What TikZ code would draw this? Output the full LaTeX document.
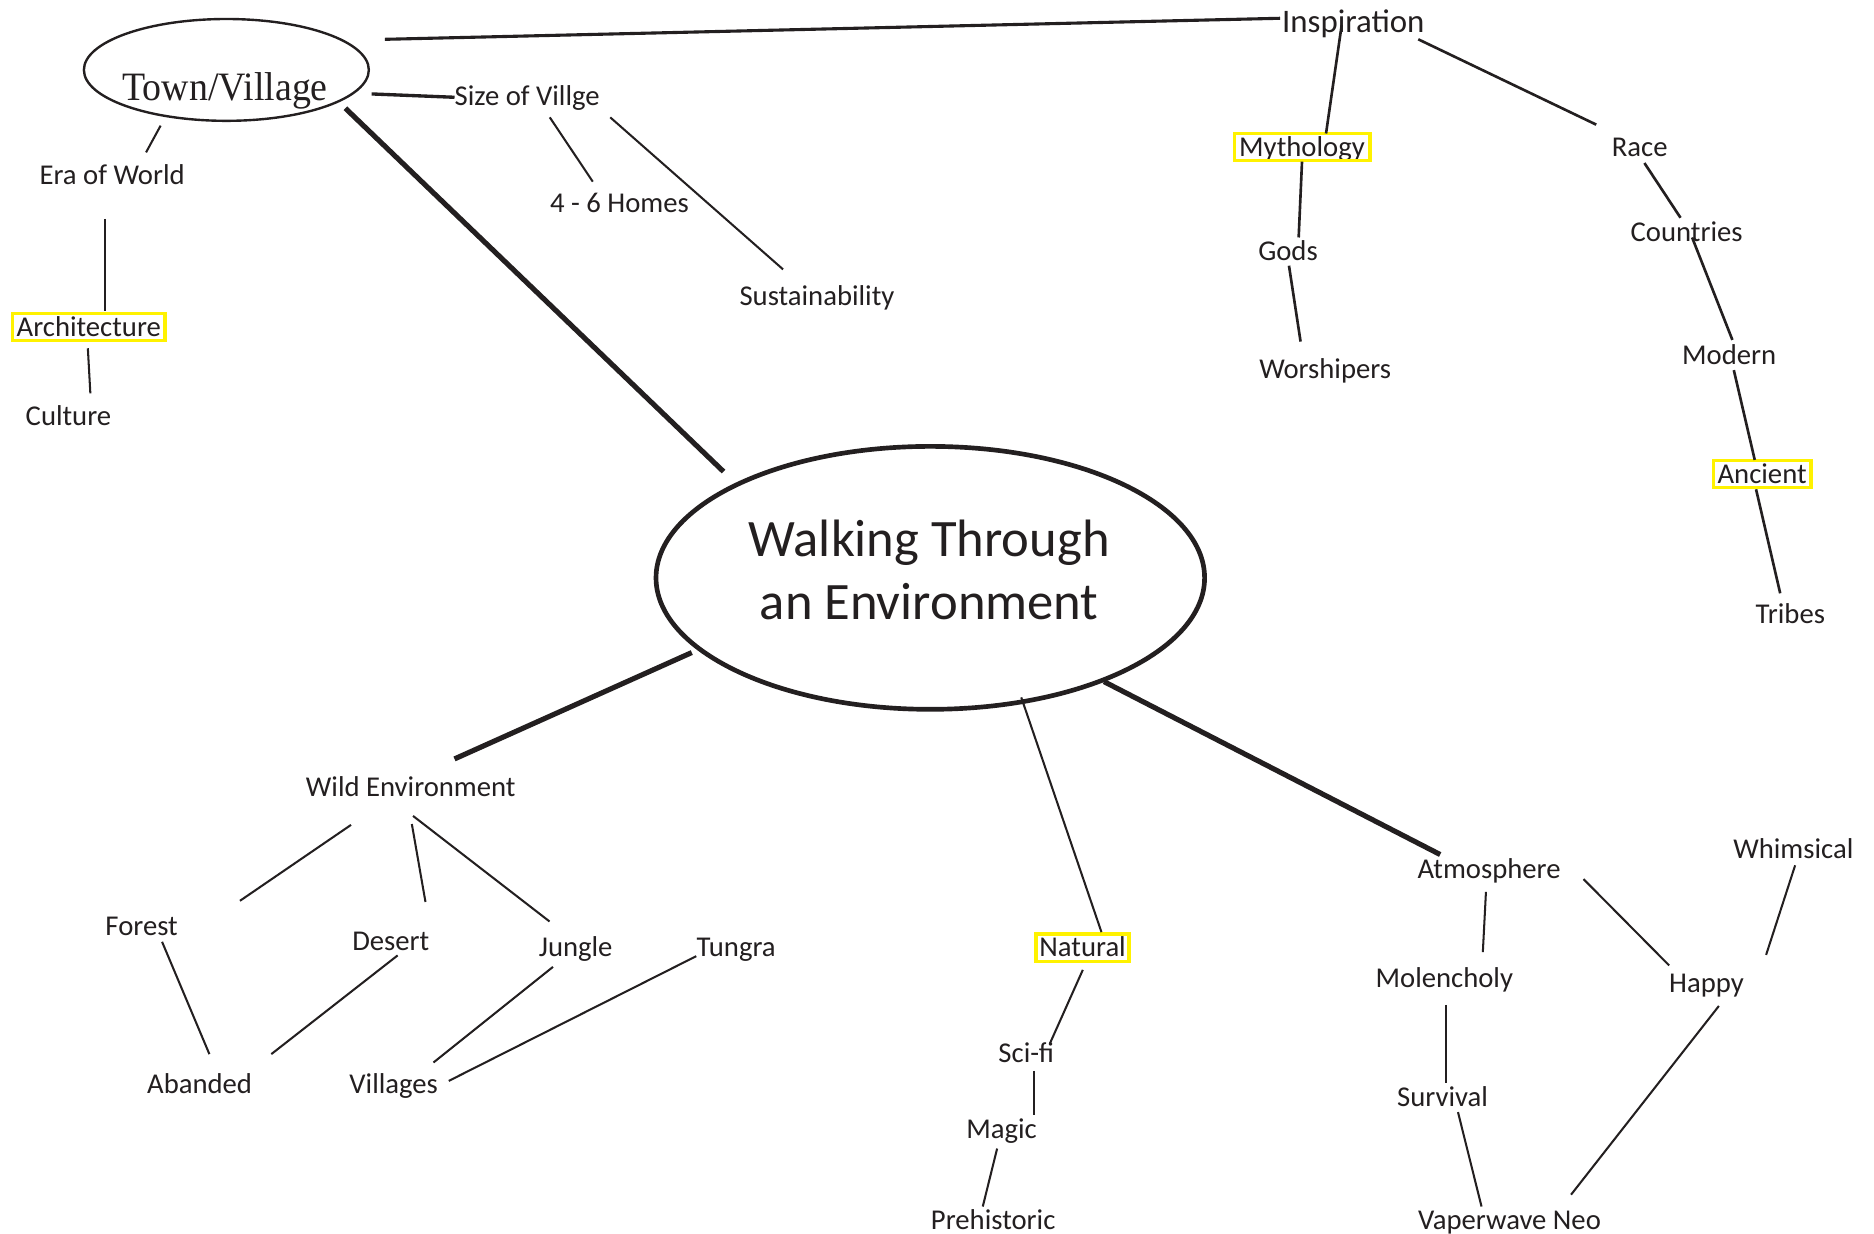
\documentclass[tikz,border=0pt]{standalone}
\usepackage{fontspec}
\setmainfont{Carlito}
\newfontfamily\townfont[FakeStretch=0.94]{Liberation Serif}
\usetikzlibrary{shapes.geometric}
\definecolor{ink}{RGB}{35,31,32}
\definecolor{hly}{RGB}{255,242,0}
\begin{document}
\begin{tikzpicture}[x=1pt,y=-1pt,
  lbl/.style={font=\fontsize{24}{28}\selectfont, inner sep=0pt, text height=15.2pt, text depth=0pt, text=ink},
  hlbox/.style={draw=hly, line width=2.8pt, inner sep=0pt, minimum height=23pt},
  thinln/.style={draw=ink, line width=1.7pt},
  midln/.style={draw=ink, line width=2.2pt},
  thickln/.style={draw=ink, line width=4.3pt}]
\fill[white] (0,0) rectangle (1568,1032.5);
\useasboundingbox (0,0) rectangle (1568,1032.5);

% ellipses and titles
\node[ellipse, draw=ink, line width=2pt, minimum width=238.4pt, minimum height=85.2pt, inner sep=0pt] (town) at (189.4,58.5) {};
\node[font=\townfont\fontsize{33.7}{40}\selectfont, text=ink, inner sep=0pt, anchor=base] (townt) at (188.3,83.7) {Town/Village};
\node[ellipse, draw=ink, line width=3.9pt, minimum width=459pt, minimum height=220pt, inner sep=0pt] (main) at (778.4,483.5) {};
\node[font=\fontsize{44}{53}\selectfont, text=ink, align=center, inner sep=0pt] (title) at (777.5,476.6) {Walking Through\\an Environment};

% top left
\node[lbl] (era) at (93.8,146.4) {Era of World};
\node[lbl, hlbox, minimum width=127.6pt] (arch) at (74.3,273.6) {Architecture};
\node[lbl] (cult) at (57.3,348.6) {Culture};
\node[lbl] (size) at (441.1,80.9) {Size of Villge};
\node[lbl] (homes) at (518.3,170.1) {4 - 6 Homes};
\node[lbl] (sust) at (683.6,248.2) {Sustainability};

% top right
\node[font=\fontsize{27.5}{33}\selectfont, inner sep=0pt, text height=17.4pt, text depth=0pt, text=ink] (insp) at (1132.3,18.5) {Inspiration};
\begin{scope}
  \clip (1000,100) rectangle (1180,133);
  \node[lbl] (mytht) at (1089.4,123) {Mythology};
\end{scope}
\node[hlbox, minimum width=113.5pt] (myth) at (1089.4,123) {};
\node[lbl] (gods) at (1077.7,210) {Gods};
\node[lbl] (wors) at (1108.8,308.7) {Worshipers};
\node[lbl] (race) at (1372,123) {Race};
\node[lbl] (count) at (1411.2,194.5) {Countries};
\node[lbl] (modern) at (1446.8,297.4) {Modern};
\node[lbl, hlbox, minimum width=81.7pt] (anc) at (1474.4,396.6) {Ancient};
\node[lbl] (tribes) at (1498,514) {Tribes};

% bottom left
\node[lbl] (wild) at (343.7,659) {Wild Environment};
\node[lbl] (forest) at (118.5,775) {Forest};
\node[lbl] (desert) at (327,788) {Desert};
\node[lbl] (jungle) at (481.7,793) {Jungle};
\node[lbl] (tungra) at (616,793) {Tungra};
\node[lbl] (aband) at (167,907) {Abanded};
\node[lbl] (vill) at (329.4,907) {Villages};

% bottom middle / right
\node[lbl, hlbox, minimum width=77.7pt] (nat) at (905.8,793) {Natural};
\node[lbl] (scifi) at (858.7,881) {Sci-fi};
\node[lbl] (magic) at (838,944.7) {Magic};
\node[lbl] (prehist) at (831,1021) {Prehistoric};
\node[lbl] (atmo) at (1245.9,727.2) {Atmosphere};
\node[lbl] (molen) at (1208.5,818.7) {Molencholy};
\node[lbl] (surv) at (1207,918) {Survival};
\node[lbl] (vaper) at (1263,1021) {Vaperwave Neo};
\node[lbl] (happy) at (1427.8,823) {Happy};
\node[lbl] (whim) at (1500.5,710.8) {Whimsical};

% connectors
\draw[midln, line width=2.6pt] ([shift={(132.6,-25.6)}]town.center) -- ([shift={(-61.3,-3.2)}]insp.center);
\draw[midln, line width=2.8pt] ([shift={(121.5,20.1)}]town.center) -- ([shift={(-60.8,0.5)}]size.center);
\draw[thickln] ([shift={(99.6,32.1)}]town.center) -- ([shift={(-173,-88.9)}]main.center);
\draw[thinln] ([shift={(-55,46.6)}]town.center) -- ([shift={(28.4,-18.9)}]era.center);
\draw[thinln] ([shift={(-6.1,36.8)}]era.center) -- ([shift={(13.4,-13.4)}]arch.center);
\draw[thinln] ([shift={(-0.8,17.8)}]arch.center) -- ([shift={(18.3,-19.5)}]cult.center);
\draw[thinln] ([shift={(18.9,17.3)}]size.center) -- ([shift={(-22.3,-18.1)}]homes.center);
\draw[thinln] ([shift={(69.5,17.3)}]size.center) -- ([shift={(-28.4,-22.8)}]sust.center);

\draw[midln] ([shift={(-9.7,2.4)}]insp.center) -- ([shift={(20.1,-11.3)}]myth.center);
\draw[midln] ([shift={(54.4,14.4)}]insp.center) -- ([shift={(-36.4,-18.7)}]race.center);
\draw[midln] ([shift={(0,12.3)}]myth.center) -- ([shift={(8.9,-11.3)}]gods.center);
\draw[midln] ([shift={(0.8,12.3)}]gods.center) -- ([shift={(-20.6,-22.9)}]wors.center);
\draw[midln] ([shift={(3.9,13.4)}]race.center) -- ([shift={(-5.1,-12.3)}]count.center);
\draw[midln] ([shift={(4.6,4.2)}]count.center) -- ([shift={(2.7,-13)}]modern.center);
\draw[midln] ([shift={(3.9,12.3)}]modern.center) -- ([shift={(-6.2,-11.8)}]anc.center);
\draw[midln] ([shift={(-5.1,12.8)}]anc.center) -- ([shift={(-8.5,-17.6)}]tribes.center);

\draw[thickln] ([shift={(-199.6,62.5)}]main.center) -- ([shift={(36.6,-24)}]wild.center);
\draw[thinln] ([shift={(76.1,100)}]main.center) -- ([shift={(15.8,-13.1)}]nat.center);
\draw[thickln] ([shift={(145.3,86.8)}]main.center) -- ([shift={(-40.9,-12.2)}]atmo.center);

\draw[thinln] ([shift={(-50,31.2)}]wild.center) -- ([shift={(82.3,-21.3)}]forest.center);
\draw[thinln] ([shift={(0.9,30.5)}]wild.center) -- ([shift={(29,-33.3)}]desert.center);
\draw[thinln] ([shift={(1.9,23.7)}]wild.center) -- ([shift={(-21.9,-22)}]jungle.center);
\draw[thinln] ([shift={(17.1,13)}]forest.center) -- ([shift={(8.2,-25)}]aband.center);
\draw[thinln] ([shift={(5.7,11.4)}]desert.center) -- ([shift={(60,-25)}]aband.center);
\draw[thinln] ([shift={(-19,16)}]jungle.center) -- ([shift={(33.3,-18)}]vill.center);
\draw[thinln] ([shift={(-33.4,7)}]tungra.center) -- ([shift={(46.1,-2.6)}]vill.center);

\draw[thinln] ([shift={(0.2,18.5)}]nat.center) -- ([shift={(19.8,-8)}]scifi.center);
\draw[thinln] ([shift={(6.8,15)}]scifi.center) -- ([shift={(27.5,-11.9)}]magic.center);
\draw[thinln] ([shift={(-3.7,16.3)}]magic.center) -- ([shift={(-8.7,-11.5)}]prehist.center);

\draw[thinln] ([shift={(-2.6,19.1)}]atmo.center) -- ([shift={(32.2,-22.1)}]molen.center);
\draw[thinln] ([shift={(79,8.3)}]atmo.center) -- ([shift={(-31.2,-15.2)}]happy.center);
\draw[thinln] ([shift={(1,22)}]molen.center) -- ([shift={(2.5,-12.1)}]surv.center);
\draw[thinln] ([shift={(12.9,12.5)}]surv.center) -- ([shift={(-23.4,-11.5)}]vaper.center);
\draw[thinln] ([shift={(10.4,18.7)}]happy.center) -- ([shift={(51.5,-21.4)}]vaper.center);
\draw[thinln] ([shift={(1.5,13.2)}]whim.center) -- ([shift={(49.9,-24)}]happy.center);
\end{tikzpicture}
\end{document}
